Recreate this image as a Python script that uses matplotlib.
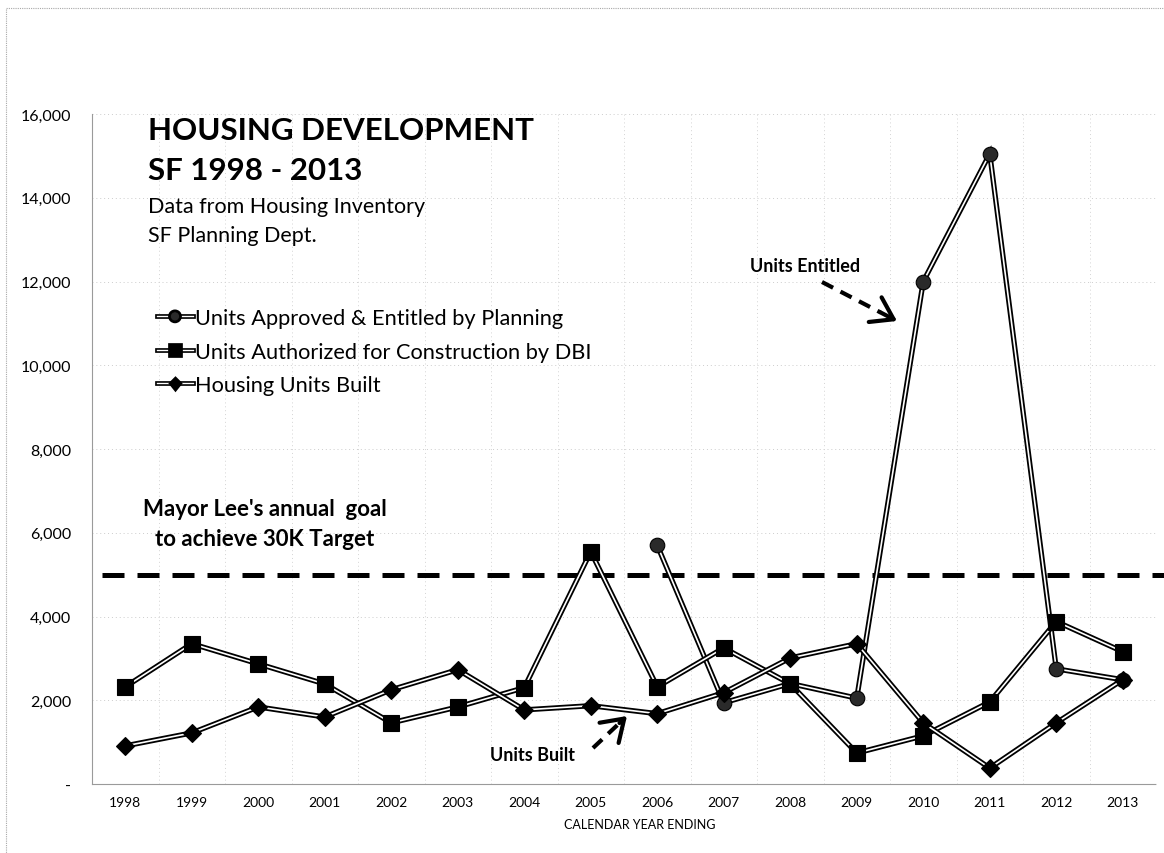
import matplotlib
matplotlib.use('Agg')
import matplotlib.pyplot as plt
import matplotlib.patheffects as pe
import numpy as np
from matplotlib.lines import Line2D
from matplotlib.patches import Rectangle, FancyArrowPatch

# ---------------- data ----------------
years = ['1998', '1999', '2000', '2001', '2002', '2003', '2004', '2005',
         '2006', '2007', '2008', '2009', '2010', '2011', '2012', '2013']
entitled = [np.nan, np.nan, np.nan, np.nan, np.nan, np.nan, np.nan, np.nan,
            5700, 1940, 2400, 2050, 12000, 15050, 2750, 2490]
authorized = [2320, 3350, 2870, 2390, 1460, 1840, 2300, 5550,
              2320, 3250, 2390, 740, 1150, 1960, 3880, 3160]
built = [910, 1220, 1840, 1600, 2250, 2730, 1770, 1870,
         1680, 2180, 3010, 3350, 1460, 380, 1460, 2490]
goal = 5000
yticks = [0, 2000, 4000, 6000, 8000, 10000, 12000, 14000, 16000]
ytick_labels = ['-', '2,000', '4,000', '6,000', '8,000', '10,000',
                '12,000', '14,000', '16,000']
series_labels = ['Units Approved & Entitled by Planning',
                 'Units Authorized for Construction by DBI',
                 'Housing Units Built']

W, H = 1164, 854
FONT = 'Lato'
plt.rcParams['font.family'] = [FONT, 'DejaVu Sans']

fig = plt.figure(figsize=(W / 100, H / 100), dpi=100)
fig.patch.set_facecolor('white')


def fx(px):
    return px / W


def fy(py):
    return 1 - py / H


ax_left, ax_right, ax_top, ax_bot = 92, 1156, 115, 785
ax = fig.add_axes([fx(ax_left), fy(ax_bot), fx(ax_right - ax_left), (ax_bot - ax_top) / H])

x = np.arange(len(years))
ax.set_xlim(-0.5, len(years) - 0.5)
ax.set_ylim(0, 16000)

# gridlines (faint dotted, like the scanned Excel chart)
for yv in yticks[1:]:
    ax.axhline(yv, color='#cccccc', lw=0.7, ls=(0, (1, 3)), zorder=0)
for xv in np.arange(0.5, len(years) - 0.5, 1):
    ax.axvline(xv, color='#d4d4d4', lw=0.7, ls=(0, (1, 3)), zorder=0)

for s in ['top', 'right']:
    ax.spines[s].set_visible(False)
for s in ['left', 'bottom']:
    ax.spines[s].set_color('#9a9a9a')
    ax.spines[s].set_linewidth(0.8)
    ax.spines[s].set_linestyle((0, (1, 1)))

ax.set_yticks(yticks)
ax.set_yticklabels(ytick_labels, fontsize=11.5)
ax.set_xticks(x)
ax.set_xticklabels(years, fontsize=10)
ax.tick_params(axis='y', length=0, pad=15)
ax.tick_params(axis='x', length=0, pad=9)

# goal line
ax.axhline(goal, xmin=0.009, xmax=1.01, color='black', lw=3.6,
           ls=(0, (4.4, 2.6)), clip_on=False, zorder=1)

OUT_LW = 3.8
IN_LW = 1.2


def draw_series(vals, marker, ms, mfc, z):
    ax.plot(x, vals, color='black', lw=OUT_LW, zorder=z, solid_joinstyle='miter')
    ax.plot(x, vals, color='white', lw=IN_LW, zorder=z + 0.1, solid_joinstyle='miter')
    ax.plot(x, vals, ls='none', marker=marker, ms=ms, mfc=mfc, mec='black',
            mew=0.8, zorder=z + 0.2)


draw_series(entitled, 'o', 10.5, '#2a2a2a', 2)
draw_series(authorized, 's', 11, 'black', 3)
draw_series(built, 'D', 9.6, 'black', 4)


def legend_handle(marker, ms, mfc):
    return Line2D([], [], color='white', lw=1.0, marker=marker, ms=ms, mfc=mfc,
                  mec='black', mew=0.5,
                  path_effects=[pe.Stroke(linewidth=3.4, foreground='black'), pe.Normal()])


handles = [legend_handle('o', 6.5, '#2a2a2a'),
           legend_handle('s', 7, 'black'),
           legend_handle('D', 4.5, 'black')]
leg = ax.legend(handles, series_labels, loc='upper left',
                bbox_to_anchor=(fx(157), fy(309)), bbox_transform=fig.transFigure,
                frameon=False, fontsize=15.7, handlelength=1.65, handletextpad=0.1,
                labelspacing=0.62, borderpad=0, borderaxespad=0)

# titles & annotations (figure text)
fig.text(fx(148), fy(140), 'HOUSING DEVELOPMENT', fontsize=22.5, fontweight='bold',
         va='baseline', ha='left')
fig.text(fx(148), fy(180), 'SF 1998 - 2013', fontsize=22.5, fontweight='bold',
         va='baseline', ha='left')
fig.text(fx(148), fy(213), 'Data from Housing Inventory', fontsize=15.5,
         va='baseline', ha='left')
fig.text(fx(148), fy(242), 'SF Planning Dept.', fontsize=15.5,
         va='baseline', ha='left')
fig.text(fx(265), fy(510), "Mayor Lee's annual  goal", fontsize=16, fontweight='bold',
         va='center', ha='center')
fig.text(fx(265), fy(540), 'to achieve 30K Target', fontsize=16, fontweight='bold',
         va='center', ha='center')
fig.text(fx(805), fy(267), 'Units Entitled', fontsize=13, fontweight='bold',
         va='center', ha='center')
fig.text(fx(532), fy(756), 'Units Built', fontsize=13, fontweight='bold',
         va='center', ha='center')
fig.text(fx(640), fy(825), 'CALENDAR YEAR ENDING', fontsize=9,
         va='center', ha='center')


# dashed arrows
def dashed_arrow(p0, p1):
    t = 0.78
    pm = (p0[0] + (p1[0] - p0[0]) * t, p0[1] + (p1[1] - p0[1]) * t)
    fig.add_artist(Line2D([fx(p0[0]), fx(pm[0])], [fy(p0[1]), fy(pm[1])],
                          color='black', lw=3, ls=(0, (3, 2)),
                          transform=fig.transFigure))
    fig.add_artist(FancyArrowPatch(
        (fx(pm[0]), fy(pm[1])), (fx(p1[0]), fy(p1[1])),
        transform=fig.transFigure, arrowstyle='->,head_length=6,head_width=4',
        color='black', lw=3, mutation_scale=2.5, shrinkA=0, shrinkB=0))


dashed_arrow((822, 283), (897, 322))
dashed_arrow((593, 749), (627, 717))

# outer chart border
fig.add_artist(Rectangle((fx(6), fy(870)), fx(1180), (870 - 9) / H,
                         transform=fig.transFigure, fill=False,
                         ec='#a8a8a8', lw=0.8, ls=(0, (1, 1))))

fig.savefig('out.png', dpi=100, facecolor='white')
